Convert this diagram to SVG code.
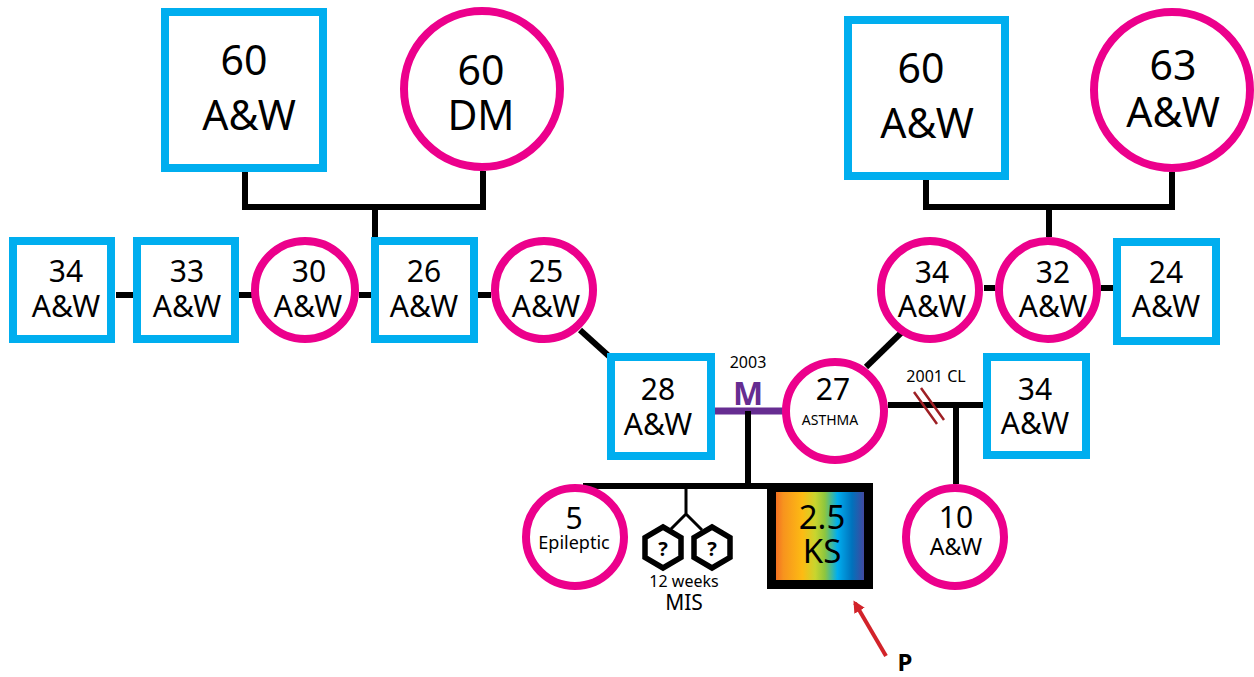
<svg xmlns="http://www.w3.org/2000/svg" width="1254" height="677" viewBox="0 0 1254 677">
<defs>
<style>
.m{fill:#fff;stroke:#00AEEF;stroke-width:8}
.f{fill:#fff;stroke:#EC008C;stroke-width:8}
.t{font-family:"Noto Sans","Open Sans",sans-serif;fill:#000;text-anchor:middle}
.L{font-size:41px}
.S{font-size:30px}
.ln{stroke:#000;stroke-width:6;fill:none}
</style>
<linearGradient id="rb" x1="0" y1="0" x2="1" y2="0">
<stop offset="0" stop-color="#F15A24"/>
<stop offset="0.12" stop-color="#F7931E"/>
<stop offset="0.32" stop-color="#FDBB13"/>
<stop offset="0.45" stop-color="#C9D52E"/>
<stop offset="0.55" stop-color="#8DC63F"/>
<stop offset="0.68" stop-color="#00AEEF"/>
<stop offset="0.83" stop-color="#0072BC"/>
<stop offset="1" stop-color="#5B3A96"/>
</linearGradient>
<marker id="ah" markerWidth="12" markerHeight="12" refX="9" refY="6" orient="auto" markerUnits="userSpaceOnUse" viewBox="0 0 12 12">
<path d="M0,0 L12,6 L0,12 Z" fill="#D2232A"/>
</marker>
</defs>
<g id="connectors">
<path class="ln" d="M245,172 V207 H483 V171 M375,207 V237"/>
<path class="ln" d="M926,180 V207 H1172 V172 M1049,207 V237"/>
<path class="ln" d="M116,295 H133 M239,295 H252 M359,295 H371 M478,295 H491"/>
<path class="ln" d="M984,288 H995 M1101,288 H1113"/>
<path class="ln" d="M580,330 L611,358"/>
<path class="ln" d="M866,367 L902,332"/>
<path d="M715,411 H784" stroke="#662D91" stroke-width="7" fill="none"/>
<path class="ln" d="M748,411 V486 M583,486 H768"/>
<path class="ln" d="M888,405 H984 M956,405 V484"/>
<path d="M686,486 V514 L671,529 M686,514 L702,530" stroke="#000" stroke-width="3" fill="none"/>
<path d="M914,392 L937,424 M921,388 L944,420" stroke="#9E1F24" stroke-width="2.5" fill="none"/>
<path d="M886,656 L855,603" stroke="#D2232A" stroke-width="4" fill="none" marker-end="url(#ah)"/>
</g>
<g id="gf1"><rect class="m" x="165" y="12" width="158" height="156"/>
<text class="t L" x="244" y="75">60</text><text class="t L" x="249" y="130">A&amp;W</text></g>
<g id="gm1"><circle class="f" cx="482" cy="89" r="78"/>
<text class="t L" x="481" y="85">60</text><text class="t L" x="481" y="130">DM</text></g>
<g id="gf2"><rect class="m" x="848" y="20" width="157" height="156"/>
<text class="t L" x="921" y="83">60</text><text class="t L" x="927" y="138">A&amp;W</text></g>
<g id="gm2"><circle class="f" cx="1172" cy="90" r="78"/>
<text class="t L" x="1173" y="80">63</text><text class="t L" x="1173" y="127">A&amp;W</text></g>
<g id="n34l"><rect class="m" x="13" y="241" width="98" height="98"/>
<text class="t S" x="66" y="282">34</text><text class="t S" x="66" y="317">A&amp;W</text></g>
<g id="n33"><rect class="m" x="137" y="241" width="98" height="98"/>
<text class="t S" x="187" y="282">33</text><text class="t S" x="187" y="317">A&amp;W</text></g>
<g id="n30"><ellipse class="f" cx="305" cy="290" rx="50" ry="49"/>
<text class="t S" x="309" y="282">30</text><text class="t S" x="308" y="317">A&amp;W</text></g>
<g id="n26"><rect class="m" x="375" y="241" width="99" height="98"/>
<text class="t S" x="424" y="282">26</text><text class="t S" x="424" y="317">A&amp;W</text></g>
<g id="n25"><ellipse class="f" cx="544" cy="290" rx="49" ry="49"/>
<text class="t S" x="546" y="282">25</text><text class="t S" x="546" y="317">A&amp;W</text></g>
<g id="n34r"><circle class="f" cx="930" cy="290" r="49"/>
<text class="t S" x="932" y="283">34</text><text class="t S" x="932" y="317">A&amp;W</text></g>
<g id="n32"><circle class="f" cx="1048" cy="290" r="49"/>
<text class="t S" x="1053" y="283">32</text><text class="t S" x="1053" y="317">A&amp;W</text></g>
<g id="n24"><rect class="m" x="1117" y="242" width="99" height="99"/>
<text class="t S" x="1166" y="283">24</text><text class="t S" x="1166" y="317">A&amp;W</text></g>
<g id="n28"><rect class="m" x="611" y="357" width="100" height="99"/>
<text class="t S" x="658" y="400">28</text><text class="t S" x="658" y="435">A&amp;W</text></g>
<g id="marriage"><text class="t" x="748" y="368" font-size="16">2003</text>
<text x="748" y="405" font-family="'Noto Sans',sans-serif" font-weight="bold" font-size="32" fill="#662D91" text-anchor="middle">M</text></g>
<g id="n27"><circle class="f" cx="835" cy="411" r="49"/>
<text class="t S" x="833" y="400">27</text><text class="t" x="830" y="425" font-size="14">ASTHMA</text></g>
<g id="cl"><text class="t" x="936" y="382" font-size="16">2001  CL</text></g>
<g id="n34b"><rect class="m" x="987" y="357" width="99" height="98"/>
<text class="t S" x="1035" y="400">34</text><text class="t S" x="1035" y="434">A&amp;W</text></g>
<g id="n10"><circle class="f" cx="955" cy="537" r="49"/>
<text class="t S" x="956" y="528">10</text><text class="t" x="956" y="555" font-size="23">A&amp;W</text></g>
<g id="n5"><circle class="f" cx="575" cy="537" r="49"/>
<text class="t S" x="574" y="529">5</text><text class="t" x="574" y="549" font-size="18">Epileptic</text></g>
<g id="twins">
<path d="M663,527 L681,537.5 L681,557.5 L663,568 L645,557.5 L645,537.5 Z" fill="#fff" stroke="#000" stroke-width="5.5"/>
<path d="M712,527 L730,537.5 L730,557.5 L712,568 L694,557.5 L694,537.5 Z" fill="#fff" stroke="#000" stroke-width="5.5"/>
<text class="t" x="663" y="556" font-size="20" font-weight="bold">?</text><text class="t" x="712" y="556" font-size="20" font-weight="bold">?</text>
<text class="t" x="684" y="587" font-size="16">12 weeks</text>
<text class="t" x="684" y="610" font-size="21">MIS</text></g>
<g id="proband"><rect x="771.5" y="487.5" width="97" height="97" fill="url(#rb)" stroke="#000" stroke-width="9"/>
<text class="t" x="822" y="529" font-size="33">2.5</text><text class="t" x="822" y="563" font-size="33">KS</text></g>
<g id="plabel"><text x="905" y="671" font-family="'Noto Sans',sans-serif" font-weight="bold" font-size="24" text-anchor="middle">P</text></g>
</svg>
